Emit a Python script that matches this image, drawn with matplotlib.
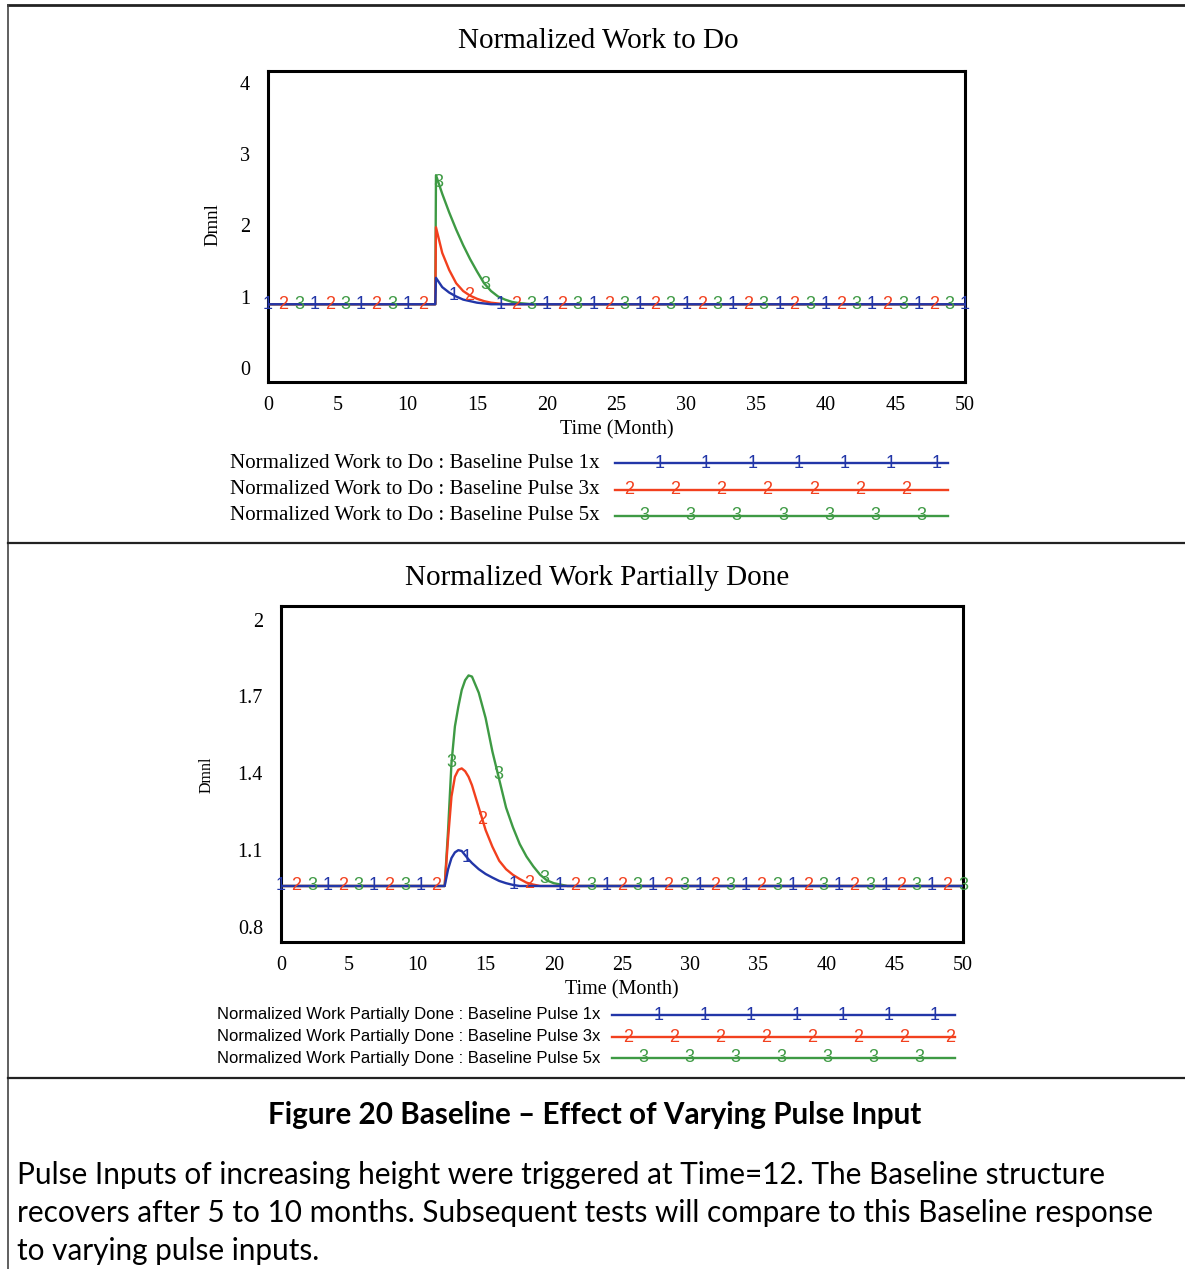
import numpy as np
import matplotlib
matplotlib.use("Agg")
import matplotlib.pyplot as plt
from matplotlib.transforms import ScaledTranslation

# ---------------- data ----------------
series_names = ["Baseline Pulse 1x", "Baseline Pulse 3x", "Baseline Pulse 5x"]
series_ids = ["1", "2", "3"]
colors = ["#2236a8", "#f2401e", "#3e9a44"]

# Normalized Work to Do
t_top = [0, 12, 12.05, 12.5, 13, 13.5, 14, 14.5, 15, 15.5, 16, 16.5, 17, 17.5, 18, 19, 20, 50]
top_1x = [1, 1, 1.34, 1.22, 1.15, 1.10, 1.06, 1.04, 1.02, 1.01, 1.0, 1.0, 1.0, 1.0, 1.0, 1.0, 1.0, 1.0]
top_3x = [1, 1, 1.99, 1.66, 1.44, 1.27, 1.17, 1.11, 1.07, 1.04, 1.02, 1.01, 1.0, 1.0, 1.0, 1.0, 1.0, 1.0]
top_5x = [1, 1, 2.66, 2.42, 2.18, 1.96, 1.76, 1.58, 1.42, 1.27, 1.17, 1.10, 1.06, 1.03, 1.015, 1.0, 1.0, 1.0]

# Normalized Work Partially Done
t_bot = [0, 12, 12.25, 12.5, 12.75, 13, 13.25, 13.5, 13.75, 14, 14.5, 15, 15.5, 16,
         16.5, 17, 17.5, 18, 18.5, 19, 19.5, 20, 21, 50]
bot_1x = [1, 1, 1.06, 1.10, 1.12, 1.128, 1.125, 1.11, 1.095, 1.082, 1.06, 1.043, 1.03, 1.018,
          1.01, 1.004, 1.0, 1.0, 1.0, 1.0, 1.0, 1.0, 1.0, 1.0]
bot_3x = [1, 1, 1.17, 1.32, 1.39, 1.415, 1.42, 1.41, 1.39, 1.36, 1.28, 1.20, 1.14, 1.09,
          1.06, 1.04, 1.025, 1.012, 1.005, 1.0, 1.0, 1.0, 1.0, 1.0]
bot_5x = [1, 1, 1.20, 1.44, 1.57, 1.64, 1.70, 1.735, 1.752, 1.748, 1.69, 1.60, 1.48, 1.38,
          1.28, 1.21, 1.15, 1.105, 1.07, 1.04, 1.02, 1.01, 1.0, 1.0]

x_ticks = [0, 5, 10, 15, 20, 25, 30, 35, 40, 45, 50]
top_yticks = [0, 1, 2, 3, 4]
bot_yticks = [0.8, 1.1, 1.4, 1.7, 2.0]
bot_yticklabels = ["0.8", "1.1", "1.4", "1.7", "2"]

top_title = "Normalized Work to Do"
bot_title = "Normalized Work Partially Done"
caption = "Figure 20 Baseline \u2013 Effect of Varying Pulse Input"
paragraph = ["Pulse Inputs of increasing height were triggered at Time=12. The Baseline structure",
             "recovers after 5 to 10 months. Subsequent tests will compare to this Baseline response",
             "to varying pulse inputs."]

# ---------------- figure ----------------
W, H = 1185, 1269
fig = plt.figure(figsize=(W / 100, H / 100), dpi=100)
SERIF = "Liberation Serif"
SANS = "Liberation Sans"
MARK_FS = 13


def frac(x0, y0, x1, y1):
    return [x0 / W, 1 - y1 / H, (x1 - x0) / W, (y1 - y0) / H]


def draw_chart(rect, t, ys, ylim, yticks, yticklabels, n_labels, tick_fs, label_shift):
    ax = fig.add_axes(frac(*rect))
    for k in [2, 1, 0]:
        ax.plot(t, ys[k], color=colors[k], lw=1.7, zorder=3 + (2 - k))
    # Vensim-style series number labels along the lines
    pos = np.linspace(0, 50, n_labels)
    for i, p in enumerate(pos):
        k = i % 3
        v = np.interp(p, t, ys[k])
        ax.text(p, v, series_ids[k], color=colors[k], fontsize=MARK_FS, family=SANS,
                ha="center", va="center", zorder=10, clip_on=False)
    ax.set_xlim(0, 50)
    ax.set_ylim(*ylim)
    ax.set_xticks(x_ticks)
    ax.set_xticklabels([str(v) for v in x_ticks], family=SERIF, fontsize=tick_fs)
    ax.set_yticks(yticks)
    ax.set_yticklabels(yticklabels, family=SERIF, fontsize=tick_fs)
    ax.tick_params(length=0, pad=10)
    ax.tick_params(axis="y", pad=13)
    # Vensim places value labels slightly inside the frame range
    for lab, dy in zip(ax.get_yticklabels(), label_shift):
        lab.set_transform(lab.get_transform() + ScaledTranslation(0, dy / 100, fig.dpi_scale_trans))
    for s in ax.spines.values():
        s.set_linewidth(2.2)
    ax.set_xlabel("Time (Month)", family=SERIF, fontsize=tick_fs, labelpad=4)
    return ax


ax1 = draw_chart((268, 71, 965, 382), t_top, [top_1x, top_3x, top_5x], (0, 4),
                 top_yticks, [str(v) for v in top_yticks], 46, 14.5,
                 [14, 7.5, 1, -5.5, -12])
ax2 = draw_chart((281, 606, 963, 942), t_bot, [bot_1x, bot_3x, bot_5x], (0.8, 2.0),
                 bot_yticks, bot_yticklabels, 45, 14.5,
                 [15, 8, 1, -6, -14])

# overlay in pixel coordinates
ov = fig.add_axes([0, 0, 1, 1])
ov.set_xlim(0, W)
ov.set_ylim(H, 0)
ov.axis("off")

# y labels
ov.text(213, 225, "Dmnl", rotation=90, family=SERIF, fontsize=13.5, ha="center", va="center")
ov.text(207, 775, "Dmnl", rotation=90, family=SERIF, fontsize=11.5, ha="center", va="center")

# titles
ov.text(598, 41, top_title, family=SERIF, fontsize=21, ha="center", va="center")
ov.text(597, 578, bot_title, family=SERIF, fontsize=21, ha="center", va="center")


def legend(prefix, ys_px, x0, x1, start, step, n, fs, fam):
    order = [1, 2, 0]  # series id at position i % 3
    for k in range(3):
        y = ys_px[k]
        ov.text(600, y, f"{prefix} : {series_names[k]}", family=fam, fontsize=fs,
                ha="right", va="center")
        ov.plot([x0, x1], [y, y], color=colors[k], lw=1.7)
        for i in range(n):
            if order[i % 3] == k:
                ov.text(start + step * i, y, series_ids[k], color=colors[k], fontsize=MARK_FS,
                        family=SANS, ha="center", va="center")


legend(top_title, [463, 490, 516], 615, 948, 629, 15.4, 21, 15.1, SERIF)
legend(bot_title, [1015, 1037, 1058], 612, 955, 628, 15.35, 22, 12, SANS)

# table borders
ov.plot([8, W], [5, 5], color="#222222", lw=2)
ov.plot([8, 8], [5, H], color="#444444", lw=1.2)
ov.plot([8, W], [543, 543], color="#222222", lw=1.6)
ov.plot([8, W], [1078, 1078], color="#222222", lw=1.6)

# caption & paragraph
ov.text(595, 1115, caption, family="Lato", fontweight="bold", fontsize=21.3,
        ha="center", va="center")
for i, line in enumerate(paragraph):
    ov.text(17, 1175 + 38 * i, line, family="Lato", fontsize=21.4, ha="left", va="center")

fig.savefig("out.png", dpi=100)
